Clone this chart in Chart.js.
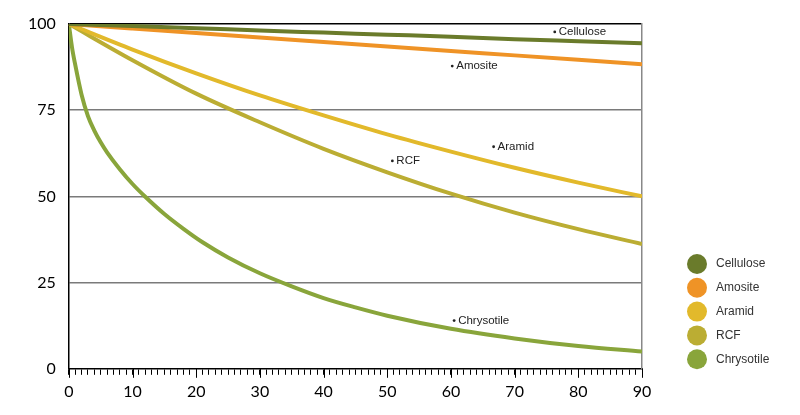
<!DOCTYPE html>
<html>
<head>
<meta charset="utf-8">
<script src="https://cdn.jsdelivr.net/npm/chart.js@4"></script>
<style>
  html, body { margin: 0; padding: 0; background: #fff; }
  #wrap { width: 800px; height: 415px; position: relative; }
</style>
</head>
<body>
<div id="wrap"><canvas id="chart"></canvas></div>
<script>
// x values shared by the slow-decaying fibres
const days = [0, 10, 20, 30, 40, 50, 60, 70, 80, 90];
const cellulose = [100, 99.4, 98.8, 98.1, 97.5, 96.9, 96.3, 95.6, 95.0, 94.4];
const amosite = [100, 98.7, 97.4, 96.1, 94.8, 93.5, 92.2, 90.9, 89.6, 88.3];
const aramid = [100, 92.6, 85.7, 79.3, 73.5, 68.0, 63.0, 58.3, 54.0, 50.0];
const rcf = [100, 89.5, 79.8, 71.5, 63.8, 57.0, 50.8, 45.3, 40.5, 36.2];

// chrysotile drops fast at the start, so it has more points
const chrysotileDays = [0, 0.5, 1, 2, 3, 4, 5, 6, 8, 10, 12, 15, 18, 21, 25, 30, 35, 40, 45, 50, 60, 70, 80, 90];
const chrysotile = [100, 93.2, 88.2, 79.5, 73.3, 69.1, 65.7, 62.8, 57.9, 53.6, 49.9, 44.9, 40.6, 36.7, 32.3, 27.7, 23.9, 20.5, 17.8, 15.4, 11.6, 8.8, 6.6, 5.0];

const seriesNames = ["Cellulose", "Amosite", "Aramid", "RCF", "Chrysotile"];
const seriesColors = ["#6a7b2b", "#ef9326", "#e2b92b", "#bbad33", "#89a53b"];
const yTicks = [0, 25, 50, 75, 100];

// where the little "• name" notes sit, in data units
const noteX = [76.3, 60.2, 66.7, 50.8, 60.5];
const noteY = [97.7, 87.8, 64.4, 60.3, 14.0];

function pts(xs, ys) {
    return xs.map((x, i) => ({ x: x, y: ys[i] }));
}

const allData = [
    pts(days, cellulose),
    pts(days, amosite),
    pts(days, aramid),
    pts(days, rcf),
    pts(chrysotileDays, chrysotile)
];

// draw order: chrysotile at the back, cellulose on top
const datasets = seriesNames.map((name, i) => ({
    label: name,
    data: allData[i],
    borderColor: seriesColors[i],
    backgroundColor: seriesColors[i],
    borderWidth: 4,
    pointRadius: 0,
    cubicInterpolationMode: "monotone",
    order: i
}));

const extras = {
    id: "extras",
    afterDraw(chart) {
        const ctx = chart.ctx;
        const xs = chart.scales.x;
        const ys = chart.scales.y;
        const area = chart.chartArea;
        ctx.save();

        // longer ticks every 10
        ctx.strokeStyle = "#000";
        ctx.lineWidth = 1;
        for (let v = 0; v <= 90; v += 10) {
            const px = Math.round(xs.getPixelForValue(v)) + 0.5;
            ctx.beginPath();
            ctx.moveTo(px, area.bottom);
            ctx.lineTo(px, area.bottom + 9);
            ctx.stroke();
        }

        // notes on the curves
        ctx.fillStyle = "#222";
        ctx.font = "11.5px 'Liberation Sans', Arial, sans-serif";
        ctx.textBaseline = "middle";
        seriesNames.forEach((name, i) => {
            const px = xs.getPixelForValue(noteX[i]);
            const py = ys.getPixelForValue(noteY[i]);
            ctx.beginPath();
            ctx.arc(px, py, 1.4, 0, Math.PI * 2);
            ctx.fill();
            ctx.fillText(name, px + 4, py);
        });

        // legend
        ctx.font = "12px 'Liberation Sans', Arial, sans-serif";
        seriesNames.forEach((name, i) => {
            const cy = 264 + i * 23.8;
            ctx.beginPath();
            ctx.fillStyle = seriesColors[i];
            ctx.arc(697, cy, 10, 0, Math.PI * 2);
            ctx.fill();
            ctx.fillStyle = "#333";
            ctx.fillText(name, 716, cy);
        });
        ctx.restore();
    }
};

new Chart(document.getElementById("chart"), {
    type: "line",
    data: { datasets: datasets },
    options: {
        responsive: true,
        maintainAspectRatio: false,
        animation: false,
        layout: { padding: { left: 15, right: 158, top: 24, bottom: 7 } },
        plugins: {
            legend: { display: false },
            tooltip: { enabled: false }
        },
        scales: {
            x: {
                type: "linear",
                min: 0,
                max: 90,
                border: { color: "#000", width: 1.5 },
                grid: {
                    drawOnChartArea: false,
                    drawTicks: true,
                    tickLength: 6,
                    tickColor: "#000"
                },
                ticks: {
                    stepSize: 1,
                    autoSkip: false,
                    maxRotation: 0,
                    color: "#000",
                    padding: 7,
                    font: { family: "Lato, 'Open Sans', sans-serif", size: 16 },
                    callback: v => (v % 10 === 0 ? String(v) : "")
                }
            },
            y: {
                min: 0,
                max: 100,
                afterBuildTicks: axis => { axis.ticks = yTicks.map(v => ({ value: v })); },
                border: { color: "#000", width: 1.5 },
                grid: {
                    drawTicks: false,
                    lineWidth: 1.5,
                    color: c => (c.tick.value === 100 ? "#000" : c.tick.value === 0 ? "rgba(0,0,0,0)" : "#7a7a7a")
                },
                ticks: {
                    color: "#000",
                    padding: 13,
                    font: { family: "Lato, 'Open Sans', sans-serif", size: 16 }
                }
            },
            y2: {
                position: "right",
                min: 0,
                max: 100,
                border: { color: "#888", width: 1.5 },
                grid: { display: false, drawTicks: false },
                ticks: { display: false }
            }
        }
    },
    plugins: [extras]
});
</script>
</body>
</html>
